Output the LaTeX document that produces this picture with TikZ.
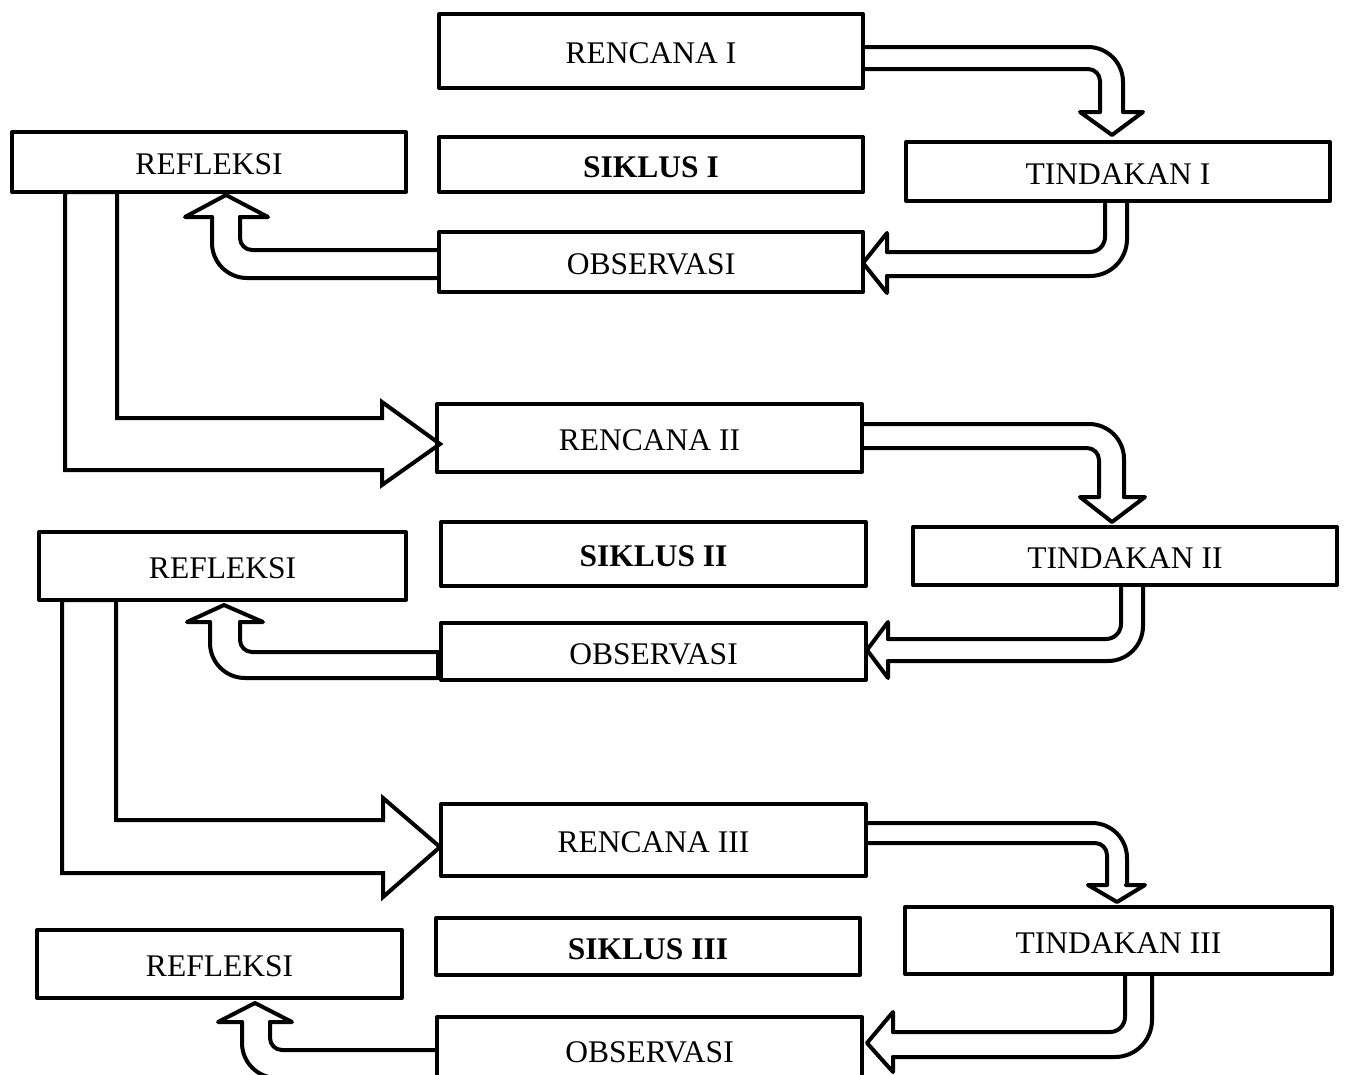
\documentclass[tikz,border=0pt]{standalone}
\usepackage{fontspec}
\setmainfont{Liberation Serif}
\usetikzlibrary{calc}
\tikzset{
	stage/.style={draw, rectangle, line width=4pt, line join=round, inner sep=0pt, outer sep=0pt, text height=25pt, text depth=0pt, font=\fontsize{31.5pt}{36pt}\selectfont},
	arw/.style={line width=4pt, line cap=round, line join=round},
	bigarw/.style={line width=4pt, line join=miter}
}

\begin{document}
\begin{tikzpicture}[x=1pt, y=-1pt]
		%%%%% START %%%%%
		\useasboundingbox (0,0) rectangle (1347,1074);
		\clip (0,0) rectangle (1347,1074);
		
		% siklus I
		\node[stage, minimum width=424pt, minimum height=74pt] (r1) at (651,51) {RENCANA I};
		\node[stage, minimum width=394pt, minimum height=60pt] (f1) at (209,162) {REFLEKSI};
		\node[stage, minimum width=424pt, minimum height=55pt] (s1) at (651,164.5) {\textbf{SIKLUS I}};
		\node[stage, minimum width=424pt, minimum height=59pt] (t1) at (1118,171.5) {TINDAKAN I};
		\node[stage, minimum width=424pt, minimum height=60pt] (o1) at (651,262) {OBSERVASI};
		
		\draw[arw, rounded corners=35pt] ($(r1.east)+(0,-4)$) -| ($(t1.north)+(5,-30)$);
		\draw[arw, rounded corners=12pt] ($(r1.east)+(0,18)$) -| ($(t1.north)+(-18,-30)$);
		\draw[arw] ($(t1.north)+(-18,-30)$) -- ++(-20,0) -- ($(t1.north)+(-6,-7)$) -- ($(t1.north)+(25,-30)$) -- ++(-20,0);
		
		\draw[arw, rounded corners=15pt] ($(t1.south)+(-13,0)$) |- ($(o1.east)+(24,-10)$);
		\draw[arw, rounded corners=37pt] ($(t1.south)+(9,0)$) |- ($(o1.east)+(24,14)$);
		\draw[arw] ($(o1.east)+(24,-10)$) -- ++(0,-19) -- ($(o1.east)+(0,1)$) -- ($(o1.east)+(24,31)$) -- ++(0,-17);
		
		\draw[arw, rounded corners=12pt] ($(o1.west)+(0,-12)$) -| ($(f1.south)+(31,25)$);
		\draw[arw, rounded corners=35pt] ($(o1.west)+(0,16)$) -| ($(f1.south)+(3,25)$);
		\draw[arw] ($(f1.south)+(3,25)$) -- ++(-27,0) -- ($(f1.south)+(17,3)$) -- ($(f1.south)+(59,25)$) -- ++(-28,0);
		
		% siklus II
		\node[stage, minimum width=425pt, minimum height=68pt] (r2) at (649.5,438) {RENCANA II};
		\node[stage, minimum width=367pt, minimum height=68pt] (f2) at (222.5,566) {REFLEKSI};
		\node[stage, minimum width=425pt, minimum height=64pt] (s2) at (653.5,554) {\textbf{SIKLUS II}};
		\node[stage, minimum width=424pt, minimum height=58pt] (t2) at (1125,556) {TINDAKAN II};
		\node[stage, minimum width=425pt, minimum height=57pt] (o2) at (653.5,651.5) {OBSERVASI};
		
		\draw[bigarw] ($(f1.south west)+(53,0)$) |- ($(r2.west)+(-55,32)$) -- ++(0,15) -- ($(r2.west)+(3,6)$) -- ($(r2.west)+(-55,-36)$) -- ++(0,16) -| ($(f1.south west)+(105,0)$) -- cycle;
		
		\draw[arw, rounded corners=35pt] ($(r2.east)+(0,-14)$) -| ($(t2.north)+(-1,-30)$);
		\draw[arw, rounded corners=12pt] ($(r2.east)+(0,10)$) -| ($(t2.north)+(-26,-30)$);
		\draw[arw] ($(t2.north)+(-26,-30)$) -- ++(-19,0) -- ($(t2.north)+(-13,-5)$) -- ($(t2.north)+(20,-30)$) -- ++(-21,0);
		
		\draw[arw, rounded corners=15pt] ($(t2.south)+(-4,0)$) |- ($(o2.east)+(22,-12.5)$);
		\draw[arw, rounded corners=35pt] ($(t2.south)+(18,0)$) |- ($(o2.east)+(22,9.5)$);
		\draw[arw] ($(o2.east)+(22,-12.5)$) -- ++(0,-17) -- ($(o2.east)+(1,-1.5)$) -- ($(o2.east)+(22,26.5)$) -- ++(0,-17);
		
		\draw[arw, rounded corners=12pt] ($(o2.west)+(-3,0.5)$) -| ($(f2.south)+(17.5,22)$);
		\draw[arw, rounded corners=35pt] ($(o2.west)+(-3,26.5)$) -| ($(f2.south)+(-12.5,22)$);
		\draw[arw] ($(o2.west)+(-3,0.5)$) -- ++(0,26);
		\draw[arw] ($(f2.south)+(-12.5,22)$) -- ++(-23,0) -- ($(f2.south)+(1.5,5)$) -- ($(f2.south)+(40.5,22)$) -- ++(-23,0);
		
		% siklus III
		\node[stage, minimum width=425pt, minimum height=72pt] (r3) at (653.5,840) {RENCANA III};
		\node[stage, minimum width=365pt, minimum height=68pt] (f3) at (219.5,964) {REFLEKSI};
		\node[stage, minimum width=424pt, minimum height=57pt] (s3) at (648,946.5) {\textbf{SIKLUS III}};
		\node[stage, minimum width=427pt, minimum height=67pt] (t3) at (1118.5,940.5) {TINDAKAN III};
		\node[stage, minimum width=425pt, minimum height=66pt] (o3) at (649.5,1050) {OBSERVASI};
		
		\draw[bigarw] ($(f2.south west)+(23,0)$) |- ($(r3.west)+(-58,33)$) -- ++(0,24) -- ($(r3.west)+(-1,7)$) -- ($(r3.west)+(-58,-42)$) -- ++(0,22) -| ($(f2.south west)+(77,0)$) -- cycle;
		
		\draw[arw, rounded corners=35pt] ($(r3.east)+(0,-17)$) -| ($(t3.north)+(8.5,-22)$);
		\draw[arw, rounded corners=12pt] ($(r3.east)+(0,3)$) -| ($(t3.north)+(-11.5,-22)$);
		\draw[arw] ($(t3.north)+(-11.5,-22)$) -- ++(-19,0) -- ($(t3.north)+(-1.5,-5)$) -- ($(t3.north)+(26.5,-22)$) -- ++(-19,0);
		
		\draw[arw, rounded corners=15pt] ($(t3.south)+(6.5,0)$) |- ($(o3.east)+(31,-18)$);
		\draw[arw, rounded corners=37pt] ($(t3.south)+(33.5,0)$) |- ($(o3.east)+(31,7)$);
		\draw[arw] ($(o3.east)+(31,-18)$) -- ++(0,-20) -- ($(o3.east)+(5,-7)$) -- ($(o3.east)+(31,22)$) -- ++(0,-15);
		
		\draw[arw, rounded corners=12pt] (o3.west) -| ($(f3.south)+(50.5,24)$);
		\draw[arw, rounded corners=35pt] ($(o3.west)+(0,28)$) -| ($(f3.south)+(22.5,24)$);
		\draw[arw] ($(f3.south)+(22.5,24)$) -- ++(-24,0) -- ($(f3.south)+(35.5,5)$) -- ($(f3.south)+(72.5,24)$) -- ++(-22,0);
		
		%%%%% END %%%%%
	\end{tikzpicture}
\end{document}
